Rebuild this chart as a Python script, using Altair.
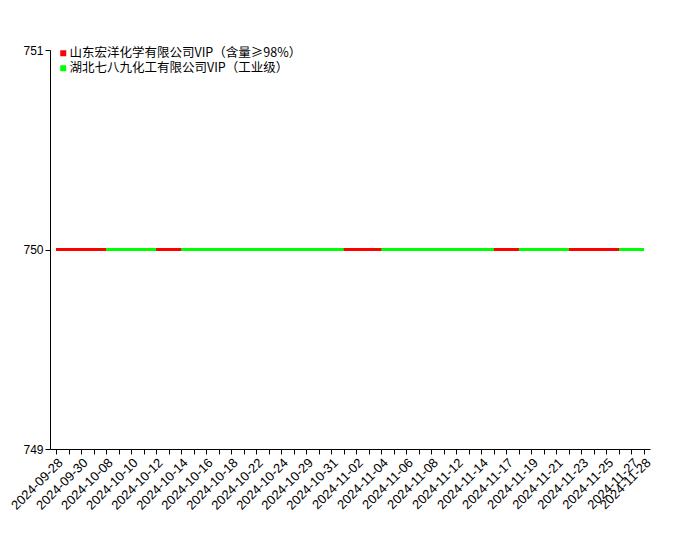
import altair as alt
import pandas as pd

dates = [
    "2024-09-28", "2024-09-29", "2024-09-30", "2024-10-07", "2024-10-08",
    "2024-10-09", "2024-10-10", "2024-10-11", "2024-10-12", "2024-10-13",
    "2024-10-14", "2024-10-15", "2024-10-16", "2024-10-17", "2024-10-18",
    "2024-10-21", "2024-10-22", "2024-10-23", "2024-10-24", "2024-10-28",
    "2024-10-29", "2024-10-30", "2024-10-31", "2024-11-01", "2024-11-02",
    "2024-11-03", "2024-11-04", "2024-11-05", "2024-11-06", "2024-11-07",
    "2024-11-08", "2024-11-11", "2024-11-12", "2024-11-13", "2024-11-14",
    "2024-11-15", "2024-11-17", "2024-11-18", "2024-11-19", "2024-11-20",
    "2024-11-21", "2024-11-22", "2024-11-23", "2024-11-24", "2024-11-25",
    "2024-11-26", "2024-11-27", "2024-11-28",
]

shown_labels = [
    "2024-09-28", "2024-09-30", "2024-10-08", "2024-10-10", "2024-10-12",
    "2024-10-14", "2024-10-16", "2024-10-18", "2024-10-22", "2024-10-24",
    "2024-10-29", "2024-10-31", "2024-11-02", "2024-11-04", "2024-11-06",
    "2024-11-08", "2024-11-12", "2024-11-14", "2024-11-17", "2024-11-19",
    "2024-11-21", "2024-11-23", "2024-11-25", "2024-11-27", "2024-11-28",
]

red_name = "山东宏洋化学有限公司VIP（含量≥98%）"
green_name = "湖北七八九化工有限公司VIP（工业级）"

red_values = [
    750, 750, 750, 750, 750, 750, 750, 750, 750, 750,
    750, 750, 750, 750, 750, 750, 750, 750, 750, 750,
    750, 750, 750, 750, 750, 750, 750, 750, 750, 750,
    750, 750, 750, 750, 750, 750, 750, 750, 750, 750,
    750, 750, 750, 750, 750, 750, 750, 750,
]
green_values = [
    None, None, None, None, 750, 750, 750, 750, 750, None,
    750, 750, 750, 750, 750, 750, 750, 750, 750, 750,
    750, 750, 750, 750, None, None, 750, 750, 750, 750,
    750, 750, 750, 750, 750, 750, None, 750, 750, 750,
    750, 750, None, None, None, 750, 750, 750,
]

y_domain = [749, 751]
colors = ["#ff0000", "#00ff00"]


def build(name, values):
    rows = []
    seg = 0
    prev_none = True
    for d, v in zip(dates, values):
        if v is None:
            prev_none = True
            continue
        if prev_none:
            seg += 1
            prev_none = False
        rows.append({"date": d, "price": v, "series": name, "seg": seg})
    return pd.DataFrame(rows)


red_df = build(red_name, red_values)
green_df = build(green_name, green_values)

label_list = "[" + ",".join("'" + s + "'" for s in shown_labels) + "]"

x_enc = alt.X(
    "date:O",
    sort=dates,
    scale=alt.Scale(type="point", domain=dates, padding=0.48),
    axis=alt.Axis(
        title=None,
        labelAngle=-45,
        labelAlign="right",
        labelBaseline="top",
        labelExpr="indexof(" + label_list + ", datum.value) >= 0 ? datum.value : ''",
        labelOverlap=False,
        labelFont="Liberation Sans",
        labelFontSize=13,
        labelColor="#000000",
        labelPadding=2,
        tickSize=5,
        tickColor="#000000",
        domainColor="#000000",
        grid=False,
    ),
)
y_enc = alt.Y(
    "price:Q",
    scale=alt.Scale(domain=y_domain, nice=False, zero=False),
    axis=alt.Axis(
        title=None,
        tickCount=3,
        labelOverlap=False,
        labelFlush=False,
        format="d",
        labelFont="Liberation Sans",
        labelFontSize=12,
        labelColor="#000000",
        labelPadding=2,
        tickSize=5,
        tickColor="#000000",
        domainColor="#000000",
        grid=False,
    ),
)
color_enc = alt.Color(
    "series:N",
    scale=alt.Scale(domain=[red_name, green_name], range=colors),
    legend=alt.Legend(
        title=None,
        orient="none",
        legendX=7,
        legendY=-3,
        symbolType="square",
        symbolSize=9,
        symbolStrokeWidth=3,
        labelFont="Noto Sans CJK SC",
        labelFontSize=12.5,
        labelColor="#000000",
        labelLimit=500,
        labelOffset=0,
        rowPadding=-1,
        padding=0,
    ),
)

red_line = alt.Chart(red_df).mark_line(strokeWidth=3, strokeCap="butt").encode(
    x=x_enc, y=y_enc, color=color_enc, detail="seg:N"
)
green_line = alt.Chart(green_df).mark_line(strokeWidth=3, strokeCap="butt").encode(
    x=x_enc, y=y_enc, color=color_enc, detail="seg:N"
)

chart = (
    alt.layer(red_line, green_line)
    .properties(
        width=600,
        height=399,
        autosize=alt.AutoSizeParams(type="none"),
        padding={"left": 42, "top": 42, "right": 40, "bottom": 90},
        background="#ffffff",
    )
    .configure_view(stroke=None)
)

chart.save("out.html", embed_options={"renderer": "svg", "actions": False})
